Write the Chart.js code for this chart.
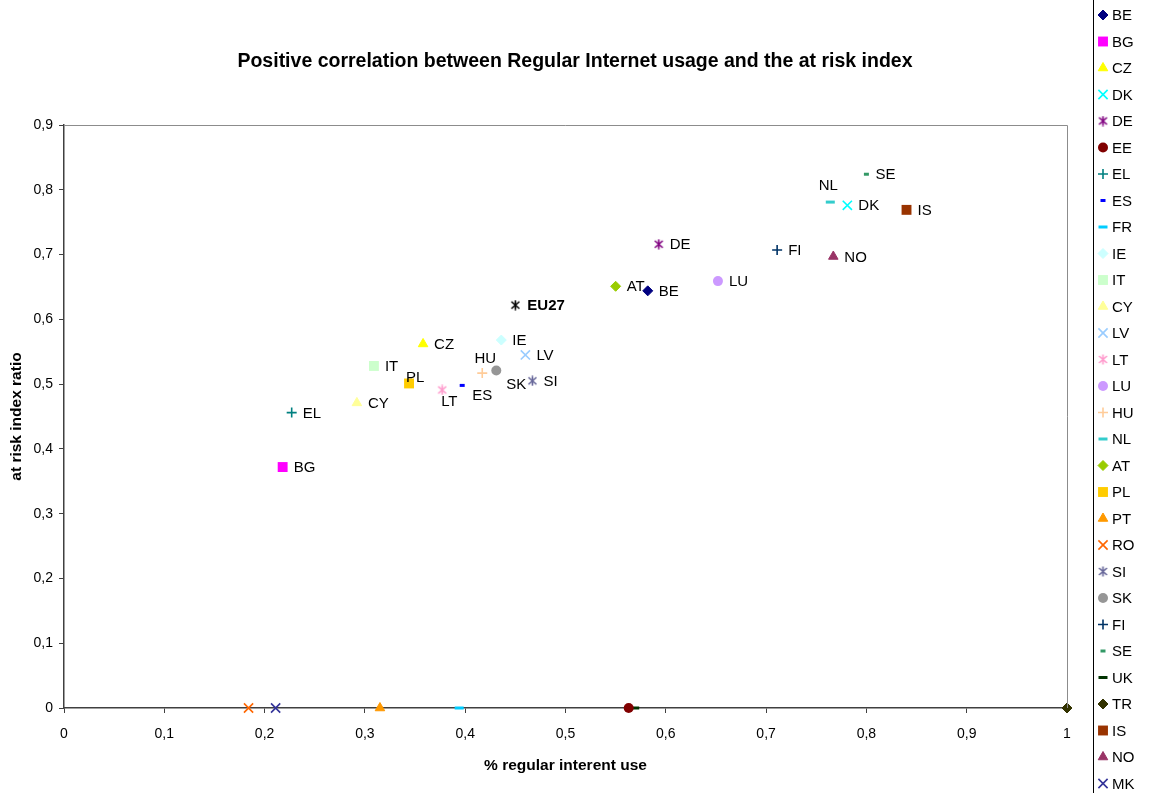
<!DOCTYPE html>
<html>
<head>
<meta charset="utf-8">
<script src="https://cdn.jsdelivr.net/npm/chart.js@4.4.1/dist/chart.umd.min.js"></script>
<style>
  html, body { margin: 0; padding: 0; background: #fff; }
  #wrap { width: 1160px; height: 793px; }
</style>
</head>
<body>
<div id="wrap"><canvas id="chart" width="1160" height="793"></canvas></div>
<script>
// data
const countries = ['BE', 'BG', 'CZ', 'DK', 'DE', 'EE', 'EL', 'ES', 'FR', 'IE', 'IT', 'CY', 'LV', 'LT', 'LU',
    'HU', 'NL', 'AT', 'PL', 'PT', 'RO', 'SI', 'SK', 'FI', 'SE', 'UK', 'TR', 'IS', 'NO', 'MK'];
const internetUse = [0.582, 0.218, 0.358, 0.781, 0.593, 0.563, 0.227, 0.397, 0.394, 0.436, 0.309, 0.292, 0.460, 0.377, 0.652,
    0.417, 0.764, 0.550, 0.344, 0.315, 0.184, 0.467, 0.431, 0.711, 0.800, 0.569, 1.0, 0.840, 0.767, 0.211];
const riskIndex = [0.644, 0.372, 0.562, 0.776, 0.716, 0, 0.456, 0.498, 0, 0.568, 0.528, 0.471, 0.545, 0.491, 0.659,
    0.517, 0.781, 0.651, 0.501, 0, 0, 0.505, 0.521, 0.707, 0.824, 0, 0, 0.769, 0.697, 0];
const euLabel = 'EU27';
const euInternetUse = 0.450;
const euRiskIndex = 0.622;
const xTicks = [0, 0.1, 0.2, 0.3, 0.4, 0.5, 0.6, 0.7, 0.8, 0.9, 1];
const yTicks = [0, 0.1, 0.2, 0.3, 0.4, 0.5, 0.6, 0.7, 0.8, 0.9];
const chartTitle = 'Positive correlation between Regular Internet usage and the at risk index';

// marker styles (Excel default series look)
const markerColors = ['#000080', '#FF00FF', '#FFFF00', '#00FFFF', '#800080', '#800000', '#008080', '#0000FF', '#00CCFF',
    '#CCFFFF', '#CCFFCC', '#FFFF99', '#99CCFF', '#FF99CC', '#CC99FF', '#FFCC99', '#33CCCC', '#99CC00', '#FFCC00',
    '#FF9900', '#FF6600', '#666699', '#969696', '#003366', '#339966', '#003300', '#333300', '#993300', '#993366', '#333399'];
const markerShapes = ['diamond', 'square', 'triangle', 'x', 'asterisk', 'circle', 'plus', 'shortDash', 'longDash',
    'diamond', 'square', 'triangle', 'x', 'asterisk', 'circle', 'plus', 'longDash', 'diamond', 'square',
    'triangle', 'x', 'asterisk', 'circle', 'plus', 'shortDash', 'longDash', 'diamond', 'square', 'triangle', 'x'];

// where each data label sits relative to its marker
const labelOffsets = {
    NL: { dx: -2, dy: -16, align: 'center' },
    HU: { dx: 3, dy: -14, align: 'center' },
    SK: { dx: 10, dy: 14 },
    PL: { dx: -3, dy: -6 },
    LT: { dx: -1, dy: 12 },
    ES: { dx: 10, dy: 10 },
    SE: { dx: 9, dy: 1 },
    EU27: { dx: 12, dy: 1 }
};

const FONT = '"Liberation Sans", Arial, sans-serif';

function makeAsterisk(color) {
    const c = document.createElement('canvas');
    c.width = 11;
    c.height = 11;
    const g = c.getContext('2d');
    g.strokeStyle = color;
    g.lineWidth = 1.6;
    g.beginPath();
    g.moveTo(1.5, 2); g.lineTo(9.5, 9);
    g.moveTo(9.5, 2); g.lineTo(1.5, 9);
    g.moveTo(5.5, 0.5); g.lineTo(5.5, 10.5);
    g.stroke();
    return c;
}

function markerOptions(shape, color) {
    switch (shape) {
        case 'diamond': return { pointStyle: 'rectRot', radius: 5, borderWidth: 1 };
        case 'square': return { pointStyle: 'rect', radius: 7, borderWidth: 0 };
        case 'triangle': return { pointStyle: 'triangle', radius: 5.5, borderWidth: 1 };
        case 'x': return { pointStyle: 'crossRot', radius: 6.5, borderWidth: 1.6 };
        case 'asterisk': return { pointStyle: makeAsterisk(color), radius: 5, borderWidth: 0 };
        case 'circle': return { pointStyle: 'circle', radius: 5, borderWidth: 0 };
        case 'plus': return { pointStyle: 'cross', radius: 5, borderWidth: 1.6 };
        case 'shortDash': return { pointStyle: 'line', radius: 2.5, borderWidth: 3 };
        default: return { pointStyle: 'line', radius: 4.5, borderWidth: 3 };
    }
}

function fmt(v) {
    const r = Math.round(v * 10) / 10;
    if (r === 0 || r === 1) return String(r);
    return r.toFixed(1).replace('.', ',');
}

const datasets = countries.map(function (code, i) {
    const m = markerOptions(markerShapes[i], markerColors[i]);
    return {
        label: code,
        data: [{ x: internetUse[i], y: riskIndex[i] }],
        pointStyle: m.pointStyle,
        pointRadius: m.radius,
        pointBorderWidth: m.borderWidth,
        backgroundColor: markerColors[i],
        borderColor: markerColors[i],
        clip: false,
        showLabel: riskIndex[i] > 0
    };
});
datasets.push({
    label: euLabel,
    data: [{ x: euInternetUse, y: euRiskIndex }],
    pointStyle: makeAsterisk('#000000'),
    pointRadius: 5,
    pointBorderWidth: 0,
    backgroundColor: '#000',
    borderColor: '#000',
    clip: false,
    showLabel: true,
    bold: true,
    noLegend: true
});

const extrasPlugin = {
    id: 'extras',
    afterDatasetsDraw: function (chart) {
        const ctx = chart.ctx;
        const area = chart.chartArea;
        ctx.save();
        // plot area frame (top / right)
        ctx.strokeStyle = '#8c8c8c';
        ctx.lineWidth = 1;
        ctx.beginPath();
        ctx.moveTo(area.left, Math.round(area.top) + 0.5);
        ctx.lineTo(Math.round(area.right) + 0.5, Math.round(area.top) + 0.5);
        ctx.lineTo(Math.round(area.right) + 0.5, area.bottom);
        ctx.stroke();

        // title
        ctx.fillStyle = '#000';
        ctx.textAlign = 'center';
        ctx.textBaseline = 'middle';
        ctx.font = 'bold 19.5px ' + FONT;
        ctx.fillText(chartTitle, 575, 62);

        // data labels
        chart.data.datasets.forEach(function (ds, i) {
            if (!ds.showLabel) return;
            const el = chart.getDatasetMeta(i).data[0];
            const off = labelOffsets[ds.label] || { dx: 11, dy: 1 };
            ctx.font = (ds.bold ? 'bold ' : '') + '15px ' + FONT;
            ctx.textAlign = off.align || 'left';
            ctx.fillText(ds.label, el.x + off.dx, el.y + off.dy);
        });

        // legend
        ctx.fillStyle = '#fff';
        ctx.fillRect(1093, 0, 67, 793);
        ctx.strokeStyle = '#000';
        ctx.lineWidth = 1;
        ctx.strokeRect(1093.5, -0.5, 80, 800);
        ctx.font = '15px ' + FONT;
        ctx.textAlign = 'left';
        let row = 0;
        chart.data.datasets.forEach(function (ds) {
            if (ds.noLegend) return;
            const y = 15 + row * 26.5;
            ctx.fillStyle = ds.backgroundColor;
            ctx.strokeStyle = ds.borderColor;
            ctx.lineWidth = ds.pointBorderWidth;
            Chart.helpers.drawPoint(ctx, {
                pointStyle: ds.pointStyle,
                radius: ds.pointRadius,
                rotation: 0,
                borderWidth: ds.pointBorderWidth
            }, 1103, y);
            ctx.fillStyle = '#000';
            ctx.fillText(ds.label, 1112, y + 1);
            row++;
        });
        ctx.restore();
    }
};

const axisColor = '#404040';

new Chart(document.getElementById('chart'), {
    type: 'scatter',
    data: { datasets: datasets },
    options: {
        responsive: false,
        animation: false,
        devicePixelRatio: 1,
        layout: { padding: { left: 0, right: 93, top: 125, bottom: 0 } },
        elements: { point: { hoverRadius: 5 } },
        scales: {
            x: {
                type: 'linear',
                min: 0,
                max: 1,
                afterFit: function (scale) { scale.height = 85; },
                afterBuildTicks: function (scale) {
                    scale.ticks = xTicks.map(function (v) { return { value: v }; });
                },
                border: { display: true, color: axisColor, width: 1.5 },
                grid: { display: true, drawOnChartArea: false, drawTicks: true, tickLength: 5, color: axisColor, lineWidth: 1 },
                ticks: {
                    padding: 13,
                    color: '#000',
                    font: { family: FONT, size: 14 },
                    maxRotation: 0,
                    callback: function (value) { return fmt(value); }
                },
                title: {
                    display: true,
                    text: '% regular interent use',
                    color: '#000',
                    font: { family: FONT, size: 15.5, weight: 'bold' },
                    padding: { top: 18, bottom: 18 }
                }
            },
            y: {
                type: 'linear',
                min: 0,
                max: 0.9,
                afterFit: function (scale) { scale.width = 64; },
                afterBuildTicks: function (scale) {
                    scale.ticks = yTicks.map(function (v) { return { value: v }; });
                },
                border: { display: true, color: axisColor, width: 1.5 },
                grid: { display: true, drawOnChartArea: false, drawTicks: true, tickLength: 5, color: axisColor, lineWidth: 1 },
                ticks: {
                    padding: 6,
                    color: '#000',
                    font: { family: FONT, size: 14 },
                    callback: function (value) { return fmt(value); }
                },
                title: {
                    display: true,
                    text: 'at risk index ratio',
                    color: '#000',
                    font: { family: FONT, size: 15.5, weight: 'bold' },
                    padding: { top: 7, bottom: 7 }
                }
            }
        },
        plugins: {
            legend: { display: false },
            tooltip: { enabled: false },
            title: { display: false }
        }
    },
    plugins: [extrasPlugin]
});
</script>
</body>
</html>
